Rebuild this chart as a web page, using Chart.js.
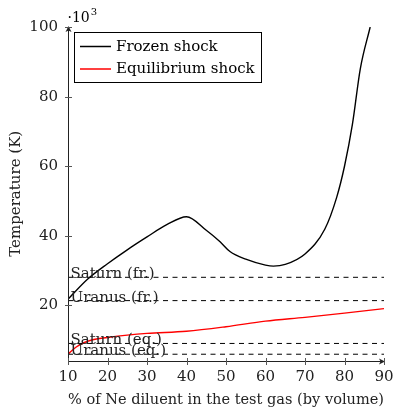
<!DOCTYPE html>
<html>
<head>
<meta charset="utf-8">
<title>Shock temperature vs Ne dilution</title>
<script src="https://cdn.jsdelivr.net/npm/chart.js@4"></script>
<style>
  html, body { margin: 0; padding: 0; background: #fff; }
  canvas { display: block; }
</style>
</head>
<body>
<canvas id="chart" width="394" height="409"></canvas>
<script>
// ── Data (temperatures in 10^3 K) ─────────────
const frozenNe   = [10, 15, 20, 25, 30, 35, 40, 45, 48.5, 51, 55, 60, 62, 65, 70, 75, 78, 80, 82, 84, 86.5];
const frozenTemp = [21.8, 27.6, 32.0, 36.0, 39.7, 43.2, 45.5, 41.6, 38.3, 35.5, 33.3, 31.6, 31.3, 31.8, 34.8, 41.9, 51, 60, 72, 88, 100];

const equilNe    = [10, 12, 14, 16, 20, 25, 30, 40, 50, 60, 70, 80, 90];
const equilTemp  = [6.0, 8.0, 9.3, 10.1, 10.8, 11.5, 12.0, 12.6, 13.9, 15.5, 16.6, 17.8, 19.1];

const refLabels  = ['Saturn (fr.)', 'Uranus (fr.)', 'Saturn (eq.)', 'Uranus (eq.)'];
const refTemps   = [28.1, 21.4, 9.1, 6.0];

const xTicks = [10, 20, 30, 40, 50, 60, 70, 80, 90];
const yTicks = [20, 40, 60, 80, 100];

const FONT = '"DejaVu Serif", serif';

const toPoints = (xs, ys) => xs.map((v, i) => ({ x: v, y: ys[i] }));

// ── Datasets ───────────────────────────────
const refSets = refTemps.map((t, i) => ({
    label: refLabels[i],
    data: [{ x: xTicks[0], y: t }, { x: xTicks[xTicks.length - 1], y: t }],
    borderColor: '#000',
    borderWidth: 1,
    borderDash: [5, 4.5],
    pointRadius: 0,
    isRef: true
}));

const datasets = [
    ...refSets,
    {
        label: 'Frozen shock',
        data: toPoints(frozenNe, frozenTemp),
        borderColor: '#000',
        borderWidth: 1.4,
        pointRadius: 0,
        cubicInterpolationMode: 'monotone'
    },
    {
        label: 'Equilibrium shock',
        data: toPoints(equilNe, equilTemp),
        borderColor: '#ff0000',
        borderWidth: 1.4,
        pointRadius: 0,
        cubicInterpolationMode: 'monotone'
    }
];

// ── Axes, arrows, ref labels, legend ───────
const decorations = {
    id: 'decorations',
    afterDatasetsDraw(chart) {
        const { ctx, chartArea: a, scales: { x, y } } = chart;
        ctx.save();

        const x0 = Math.round(a.left) + 0.5;
        const y0 = Math.round(a.bottom) + 0.5;
        const xEnd = x.getPixelForValue(90);
        const yEnd = y.getPixelForValue(100);

        ctx.strokeStyle = '#222';
        ctx.lineWidth = 1;
        ctx.beginPath();
        ctx.moveTo(x0, y0); ctx.lineTo(x0, yEnd);
        ctx.moveTo(x0, y0); ctx.lineTo(xEnd, y0);
        ctx.stroke();

        // arrow heads
        ctx.fillStyle = '#222';
        ctx.beginPath();
        ctx.moveTo(x0, yEnd - 1);
        ctx.lineTo(x0 - 3, yEnd + 5);
        ctx.lineTo(x0, yEnd + 3.5);
        ctx.lineTo(x0 + 3, yEnd + 5);
        ctx.closePath();
        ctx.fill();
        ctx.beginPath();
        ctx.moveTo(xEnd + 1, y0);
        ctx.lineTo(xEnd - 5, y0 - 3);
        ctx.lineTo(xEnd - 3.5, y0);
        ctx.lineTo(xEnd - 5, y0 + 3);
        ctx.closePath();
        ctx.fill();

        // tick marks crossing the axes
        ctx.strokeStyle = '#555';
        ctx.beginPath();
        yTicks.forEach(v => {
            const py = Math.round(y.getPixelForValue(v)) + 0.5;
            ctx.moveTo(x0 - 3.5, py); ctx.lineTo(x0 + 3.5, py);
        });
        xTicks.forEach(v => {
            const px = Math.round(x.getPixelForValue(v)) + 0.5;
            ctx.moveTo(px, y0 - 3.5); ctx.lineTo(px, y0 + 3.5);
        });
        ctx.stroke();

        // reference line labels
        ctx.fillStyle = '#222';
        ctx.font = `15px ${FONT}`;
        ctx.textAlign = 'left';
        ctx.textBaseline = 'alphabetic';
        refTemps.forEach((t, i) => {
            ctx.fillText(refLabels[i], x0 + 2, y.getPixelForValue(t) + 1);
        });

        // ·10^3 multiplier
        ctx.fillStyle = '#000';
        ctx.font = `14px ${FONT}`;
        ctx.fillText('·10', x0 - 1, 22);
        const mw = ctx.measureText('·10').width;
        ctx.font = `10px ${FONT}`;
        ctx.fillText('3', x0 + mw, 15);

        // legend
        const lg = { left: 74.5, top: 32.5, w: 187, h: 50 };
        ctx.fillStyle = '#fff';
        ctx.fillRect(lg.left, lg.top, lg.w, lg.h);
        ctx.strokeStyle = '#000';
        ctx.lineWidth = 1;
        ctx.strokeRect(lg.left, lg.top, lg.w, lg.h);
        const entries = datasets.filter(d => !d.isRef);
        entries.forEach((d, i) => {
            const ly = 46.5 + i * 22.5;
            ctx.strokeStyle = d.borderColor;
            ctx.lineWidth = 1.5;
            ctx.beginPath();
            ctx.moveTo(80, ly); ctx.lineTo(111, ly);
            ctx.stroke();
            ctx.fillStyle = '#000';
            ctx.font = `15px ${FONT}`;
            ctx.textBaseline = 'middle';
            ctx.fillText(d.label, 116, ly + 0.5);
        });

        ctx.restore();
    }
};

// ── Chart ──────────────────────────────────
new Chart(document.getElementById('chart'), {
    type: 'line',
    data: { datasets },
    options: {
        responsive: false,
        animation: false,
        layout: { padding: { top: 27, right: 0, left: 0, bottom: 0 } },
        plugins: { legend: { display: false }, tooltip: { enabled: false } },
        scales: {
            x: {
                type: 'linear',
                min: 10,
                max: 90,
                afterBuildTicks: s => { s.ticks = xTicks.map(v => ({ value: v })); },
                afterFit: s => { s.height = 48.5; s.paddingRight = 10; },
                grid: { display: false, drawTicks: false },
                border: { display: false },
                ticks: { color: '#222', font: { family: FONT, size: 15 }, padding: 8, maxRotation: 0 },
                title: {
                    display: true,
                    text: '% of Ne diluent in the test gas (by volume)',
                    color: '#222',
                    font: { family: FONT, size: 15 },
                    padding: { top: 0, bottom: 0 }
                }
            },
            y: {
                min: 4.2,
                max: 100,
                afterBuildTicks: s => { s.ticks = yTicks.map(v => ({ value: v })); },
                afterFit: s => { s.width = 68; },
                grid: { display: false, drawTicks: false },
                border: { display: false },
                ticks: { color: '#222', font: { family: FONT, size: 15 }, padding: 10 },
                title: {
                    display: true,
                    text: 'Temperature (K)',
                    color: '#222',
                    font: { family: FONT, size: 15 },
                    padding: { top: 7, bottom: 0 }
                }
            }
        }
    },
    plugins: [decorations]
});
</script>
</body>
</html>
